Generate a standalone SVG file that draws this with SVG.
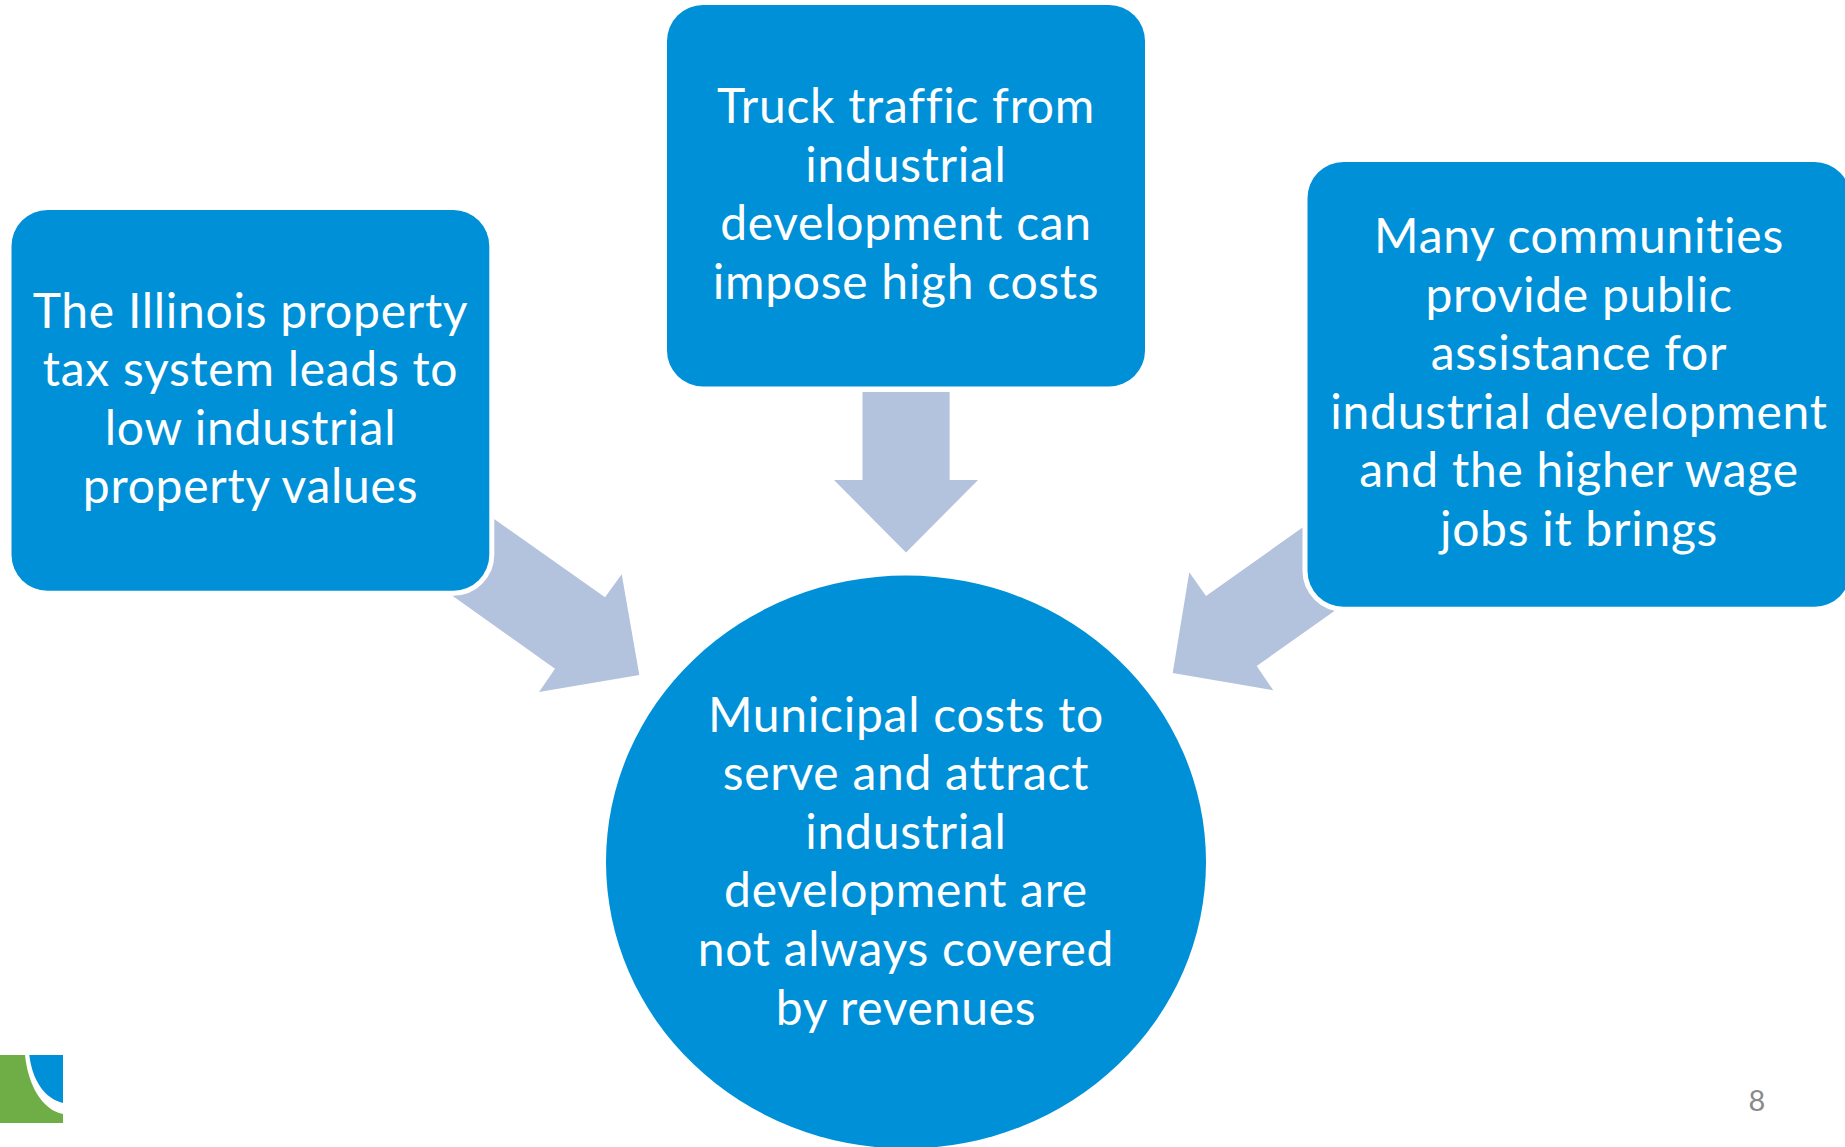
<svg xmlns="http://www.w3.org/2000/svg" width="1845" height="1147" viewBox="0 0 1845 1147">
<style>
.box{fill:#0090D7;stroke:#fff;stroke-width:10;paint-order:stroke fill}
.arrow{fill:#B3C2DD}
.t{font-family:"Lato","Open Sans","Liberation Sans",sans-serif;font-size:48px;letter-spacing:.72px;font-variant-ligatures:none;fill:#fff;text-anchor:middle}
.n{font-family:"Lato","Open Sans","Liberation Sans",sans-serif;font-size:29px;fill:#8A8A8A;text-anchor:middle}
</style>
<rect width="1845" height="1147" fill="#fff"/>
<g id="connectors">
<polygon class="arrow" points="480,509 605,597.3 621.7,574.3 639.3,675 539,692 555,668.7 438.7,586"/>
<polygon class="arrow" points="862.5,392 949.6,392 949.6,480 978,480 906,552.500 834,480 862.5,480"/>
<polygon class="arrow" points="1316,518 1206,596 1189.3,572.3 1172.7,673 1273.3,690.3 1256.7,666 1350,600"/>
</g>
<g id="node-left">
<rect class="box" x="11.500" y="210" width="477.800" height="380.700" rx="36"/>
<text class="t" x="250.500" y="327.500">The Illinois property</text>
<text class="t" x="250.500" y="386.100">tax system leads to</text>
<text class="t" x="250.500" y="444.700">low industrial</text>
<text class="t" x="250.500" y="503.300">property values</text>
</g>
<g id="node-top">
<rect class="box" x="667" y="5" width="478" height="381.500" rx="36"/>
<text class="t" x="906" y="123">Truck traffic from</text>
<text class="t" x="906" y="181.600">industrial</text>
<text class="t" x="906" y="240.200">development can</text>
<text class="t" x="906" y="298.800">impose high costs</text>
</g>
<g id="node-right">
<rect class="box" x="1307.500" y="162" width="543" height="444.700" rx="36"/>
<text class="t" x="1579" y="253">Many communities</text>
<text class="t" x="1579" y="311.600">provide public</text>
<text class="t" x="1579" y="370.200">assistance for</text>
<text class="t" x="1579" y="428.800">industrial development</text>
<text class="t" x="1579" y="487.400">and the higher wage</text>
<text class="t" x="1579" y="546">jobs it brings</text>
</g>
<g id="node-center">
<ellipse cx="906" cy="862" rx="300" ry="286.500" fill="#0090D7"/>
<text class="t" x="906" y="731.500">Municipal costs to</text>
<text class="t" x="906" y="790.100">serve and attract</text>
<text class="t" x="906" y="848.700">industrial</text>
<text class="t" x="906" y="907.300">development are</text>
<text class="t" x="906" y="965.900">not always covered</text>
<text class="t" x="906" y="1024.500">by revenues</text>
</g>
<g id="logo">
<rect x="0" y="1055" width="63" height="68" fill="#6FAD47"/>
<path d="M25 1055C28 1085 42 1110 63 1114V1055Z" fill="#fff"/>
<path d="M29.300 1055C32 1080 45 1099 63 1103V1055Z" fill="#0090D7"/>
</g>
<text id="page-number" class="n" x="1757" y="1111">8</text>
</svg>
